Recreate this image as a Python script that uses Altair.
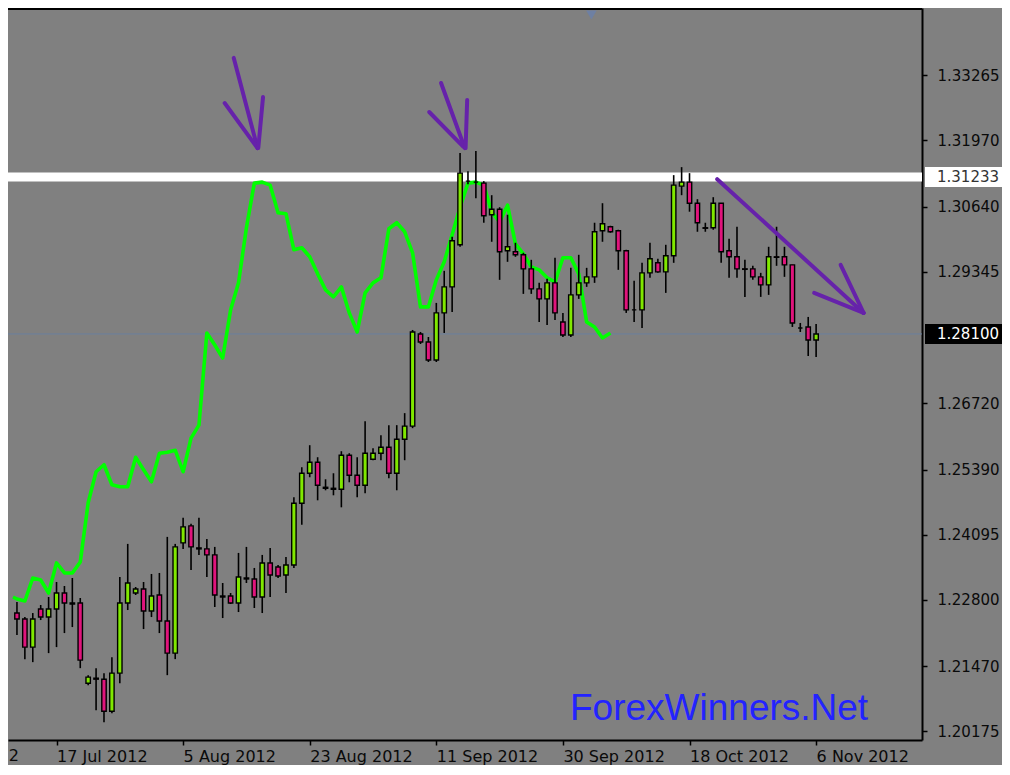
import altair as alt
import pandas as pd

# ---- candle data (EURUSD daily) ----
opens = [1.2253,1.2241,1.2185,1.2261,1.2245,1.2261,1.2293,1.2273,1.2273,1.2113,
         1.2123,1.2121,1.2057,1.2133,1.2273,1.2293,1.2301,1.2257,1.2289,1.2237,
         1.2173,1.2393,1.2427,1.2383,1.2381,1.2369,1.2287,1.2287,1.2273,1.2323,
         1.2321,1.2285,1.2353,1.2345,1.2329,1.2349,1.2472,1.2532,1.2554,1.2504,
         1.2502,1.2500,1.2568,1.2528,1.2508,1.2560,1.2572,1.2584,1.2532,1.2600,
         1.2626,1.2810,1.2794,1.2758,1.2852,1.2904,1.2988,1.3115,1.3113,1.3111,
         1.3048,1.3059,1.2976,1.2974,1.2968,1.2940,1.2900,1.2880,1.2912,1.2834,
         1.2808,1.2888,1.2912,1.2924,1.3016,1.3024,1.3016,1.2976,1.2858,1.2858,
         1.2932,1.2952,1.2934,1.2966,1.3105,1.3113,1.3071,1.3022,1.3022,1.3071,
         1.2976,1.2964,1.2940,1.2940,1.2924,1.2908,1.2964,1.2964,1.2948,1.2822,
         1.2824,1.2798]
highs = [1.2275,1.2245,1.2253,1.2269,1.2285,1.2315,1.2307,1.2323,1.2283,1.2129,
         1.2143,1.2133,1.2165,1.2325,1.2391,1.2305,1.2315,1.2331,1.2333,1.2405,
         1.2391,1.2443,1.2431,1.2443,1.2401,1.2385,1.2313,1.2293,1.2373,1.2385,
         1.2343,1.2369,1.2383,1.2349,1.2365,1.2484,1.2544,1.2588,1.2564,1.2520,
         1.2532,1.2576,1.2572,1.2564,1.2636,1.2582,1.2608,1.2628,1.2628,1.2652,
         1.2818,1.2814,1.2804,1.2872,1.2936,1.3004,1.3171,1.3135,1.3175,1.3115,
         1.3087,1.3063,1.3048,1.2992,1.2972,1.2958,1.2912,1.2920,1.2962,1.2852,
         1.2942,1.2968,1.2942,1.3032,1.3071,1.3026,1.3018,1.2978,1.2916,1.2952,
         1.2992,1.2960,1.2988,1.3127,1.3143,1.3131,1.3079,1.3032,1.3083,1.3071,
         1.3000,1.3024,1.2958,1.2946,1.2932,1.2984,1.3024,1.2984,1.2948,1.2832,
         1.2844,1.2830]
lows = [1.2209,1.2161,1.2155,1.2239,1.2173,1.2185,1.2213,1.2225,1.2143,1.2109,
        1.2059,1.2035,1.2053,1.2113,1.2259,1.2289,1.2221,1.2245,1.2213,1.2129,
        1.2161,1.2381,1.2339,1.2369,1.2325,1.2265,1.2243,1.2271,1.2255,1.2313,
        1.2263,1.2253,1.2285,1.2323,1.2293,1.2343,1.2429,1.2524,1.2478,1.2498,
        1.2488,1.2464,1.2514,1.2484,1.2492,1.2558,1.2558,1.2522,1.2498,1.2558,
        1.2622,1.2790,1.2754,1.2754,1.2812,1.2854,1.2984,1.3109,1.3081,1.3032,
        1.2994,1.2918,1.2954,1.2964,1.2890,1.2890,1.2834,1.2828,1.2838,1.2804,
        1.2804,1.2880,1.2904,1.2912,1.2994,1.3012,1.2938,1.2852,1.2834,1.2822,
        1.2922,1.2932,1.2892,1.2952,1.3087,1.3054,1.3014,1.3014,1.3018,1.2952,
        1.2922,1.2922,1.2884,1.2918,1.2884,1.2888,1.2946,1.2924,1.2824,1.2814,
        1.2766,1.2764]
closes = [1.2241,1.2185,1.2241,1.2245,1.2261,1.2293,1.2273,1.2271,1.2159,1.2125,
          1.2121,1.2057,1.2133,1.2273,1.2313,1.2301,1.2257,1.2287,1.2237,1.2173,
          1.2385,1.2425,1.2385,1.2381,1.2369,1.2289,1.2285,1.2273,1.2325,1.2321,
          1.2285,1.2353,1.2329,1.2327,1.2349,1.2472,1.2532,1.2554,1.2508,1.2502,
          1.2500,1.2568,1.2528,1.2508,1.2572,1.2572,1.2584,1.2532,1.2600,1.2626,
          1.2814,1.2794,1.2758,1.2852,1.2904,1.2996,1.3131,1.3115,1.3113,1.3046,
          1.3059,1.2974,1.2984,1.2968,1.2940,1.2900,1.2880,1.2912,1.2852,1.2808,
          1.2888,1.2912,1.2924,1.3014,1.3030,1.3014,1.2976,1.2858,1.2858,1.2932,
          1.2960,1.2934,1.2966,1.3107,1.3113,1.3071,1.3032,1.3021,1.3071,1.2974,
          1.2964,1.2940,1.2939,1.2924,1.2908,1.2964,1.2963,1.2948,1.2832,1.2822,
          1.2798,1.2810]
bar_index = list(range(len(opens)))

# ---- green overlay line ----
line_index = [-0.5] + list(range(76))
line_values = [1.2285,1.2281,1.2277,1.2323,1.2319,1.2293,1.2353,1.2333,1.2333,1.2355,1.2473,
               1.2535,1.2549,1.2509,1.2505,1.2505,1.2564,1.2539,1.2515,1.2572,1.2574,
               1.2578,1.2535,1.2602,1.2628,1.2812,1.2788,1.2762,1.2858,1.2912,1.3022,
               1.3111,1.3113,1.3107,1.3052,1.3050,1.2978,1.2982,1.2964,1.2930,1.2898,
               1.2884,1.2904,1.2852,1.2814,1.2892,1.2912,1.2922,1.3020,1.3032,1.3014,
               1.2972,1.2864,1.2864,1.2918,1.2954,1.3008,1.3063,1.3111,1.3113,1.3107,
               1.3053,1.3034,1.3067,1.2990,1.2970,1.2944,1.2938,1.2922,1.2914,1.2962,
               1.2962,1.2930,1.2834,1.2824,1.2802,1.2812]

# ---- axis ticks / labels ----
tick_index = [5, 21, 37, 53, 69, 85, 101]
tick_labels = ["17 Jul 2012", "5 Aug 2012", "23 Aug 2012", "11 Sep 2012",
               "30 Sep 2012", "18 Oct 2012", "6 Nov 2012"]
partial_labels = ["29 Jun 2012"]
y_ticks = [1.20175, 1.21470, 1.22800, 1.24095, 1.25390, 1.26720,
           1.29345, 1.30640, 1.31970, 1.33265]
hline_price = [1.31233]
bid_price = [1.28100]

# ---- hand drawn arrows (bar index, price) ----
arrow_x  = [27.4, 26.25, 31.1, 53.6, 52.1, 56.9, 88.5, 104.1, 100.75]
arrow_y  = [1.3361, 1.3271, 1.3283, 1.3311, 1.3253, 1.3277, 1.3119, 1.2948, 1.2892]
arrow_x2 = [30.4, 30.4, 30.5, 56.6, 56.4, 56.7, 107.0, 107.0, 107.0]
arrow_y2 = [1.3181, 1.3181, 1.3181, 1.3181, 1.3184, 1.3181, 1.2852, 1.2852, 1.2852]

shift_marker_index = [72.6]
watermark = ["ForexWinners.Net"]

W, H = 914, 732
BG = "#808080"
x_scale = alt.Scale(domain=[-0.5, 113.75], nice=False, zero=False)
y_scale = alt.Scale(domain=[1.19996, 1.34606], nice=False, zero=False)

candles = pd.DataFrame({"i": bar_index, "o": opens, "h": highs, "l": lows, "c": closes})
candles["dir"] = ["up" if c > o else "down" for o, c in zip(opens, closes)]

label_expr = "".join(f"datum.value == {i} ? '{t}' : " for i, t in zip(tick_index, tick_labels)) + "''"

x_axis = alt.Axis(values=tick_index, labelExpr=label_expr, labelAlign="left", labelFlush=False,
                  labelOverlap=False, labelBound=False, grid=False, title=None,
                  domainColor="black", domainWidth=2, tickColor="black", tickWidth=1.5,
                  tickSize=5, labelPadding=3, labelFont="DejaVu Sans",
                  labelFontSize=16, labelColor="#0a0a0a")
y_axis = alt.Axis(orient="right", values=y_ticks, format=".5f", grid=False, title=None,
                  labelOverlap=False, labelFlush=False, labelBound=False,
                  domainColor="black", domainWidth=2, tickColor="black", tickWidth=1.5,
                  tickSize=5, labelPadding=10, labelFont="DejaVu Sans", labelFontSize=15,
                  labelColor="#0a0a0a", labelBaseline="middle")


def X(field):
    return alt.X(field, scale=x_scale, axis=x_axis)


def Y(field):
    return alt.Y(field, scale=y_scale, axis=y_axis)


base = alt.Chart(candles)

hline = alt.Chart(pd.DataFrame({"p": hline_price})).mark_rule(color="white", strokeWidth=9).encode(
    y=Y("p:Q"))
bidline = alt.Chart(pd.DataFrame({"p": bid_price})).mark_rule(color="#6a7f9e", strokeWidth=1).encode(
    y=Y("p:Q"))

green = alt.Chart(pd.DataFrame({"i": line_index, "v": line_values})).mark_line(
    color="#00FF00", strokeWidth=3.6, clip=True, strokeJoin="round").encode(
    x=X("i:Q"), y=Y("v:Q"))

wicks = base.mark_rule(color="black", strokeWidth=1.6).encode(
    x=X("i:Q"), y=Y("l:Q"), y2="h:Q")

bodies = base.mark_bar(size=4.4, stroke="black", strokeWidth=1.4).encode(
    x=X("i:Q"), y=Y("o:Q"), y2="c:Q",
    color=alt.Color("dir:N", scale=alt.Scale(domain=["up", "down"], range=["#80E800", "#E0147C"]),
                    legend=None))

arrows = alt.Chart(pd.DataFrame({"x": arrow_x, "y": arrow_y, "x2": arrow_x2, "y2": arrow_y2})).mark_rule(
    color="#6622AA", strokeWidth=4, strokeCap="round").encode(
    x=X("x:Q"), y=Y("y:Q"), x2="x2:Q", y2="y2:Q")

top_border = alt.Chart(pd.DataFrame({"a": [0]})).mark_rule(color="black", strokeWidth=2).encode(
    y=alt.value(1))

shift_marker = alt.Chart(pd.DataFrame({"i": shift_marker_index})).mark_point(
    shape="triangle-down", filled=True, color="#6b7fa6", size=110, opacity=0.9).encode(
    x=X("i:Q"), y=alt.value(7))

partial = alt.Chart(pd.DataFrame({"t": partial_labels})).mark_text(
    align="right", baseline="top", font="DejaVu Sans", fontSize=16, color="#0a0a0a").encode(
    x=alt.value(11), y=alt.value(H + 8), text="t:N")

wm = alt.Chart(pd.DataFrame({"t": watermark})).mark_text(
    align="left", baseline="alphabetic", font="Liberation Sans", fontSize=37, color="#2323ff").encode(
    x=alt.value(562), y=alt.value(712), text="t:N")


def price_box(price, fill, text_color):
    df = pd.DataFrame({"p": price, "t": [f"{v:.5f}" for v in price]})
    box = alt.Chart(df).mark_rect(fill=fill, yOffset=-10, y2Offset=10).encode(
        x=alt.value(917), x2=alt.value(996),
        y=Y("p:Q"), y2="p:Q")
    txt = alt.Chart(df).mark_text(align="left", baseline="middle", font="DejaVu Sans",
                                  fontSize=15, color=text_color).encode(
        x=alt.value(929), y=Y("p:Q"), text="t:N")
    return box + txt


chart = alt.layer(
    hline, bidline, green, wicks, bodies, arrows, top_border, shift_marker, partial, wm,
    price_box(hline_price, "white", "#333333"),
    price_box(bid_price, "black", "white"),
).properties(
    width=W, height=H,
    autosize=alt.AutoSizeParams(type="none"),
    padding={"left": 0, "top": 0, "right": 80, "bottom": 25},
    background=BG,
).configure_view(stroke="transparent", fill=BG)

chart.save("out.html", embed_options={"renderer": "svg", "actions": False})
